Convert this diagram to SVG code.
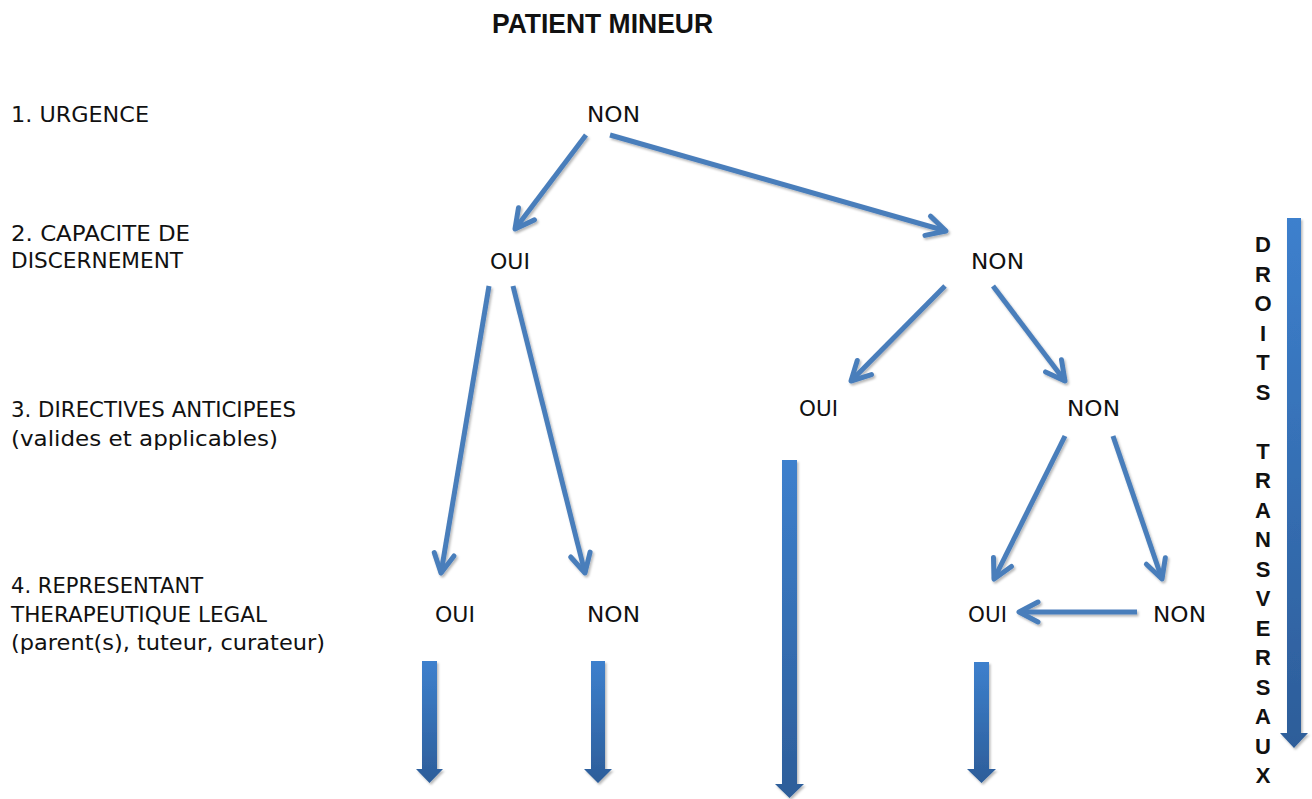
<svg xmlns="http://www.w3.org/2000/svg" width="1312" height="799" viewBox="0 0 1312 799">
  <style>
    .lbl { font-family: "DejaVu Sans", "Liberation Sans", sans-serif; font-size: 22px; fill: #111; }
    .title { font-family: "Liberation Sans", Arial, sans-serif; font-size: 28px; font-weight: bold; fill: #111; }
    .vert { font-family: "Liberation Sans", Arial, sans-serif; font-size: 22px; font-weight: bold; fill: #111; text-anchor: middle; }
    .thin { fill: none; stroke: #4a7ebb; stroke-width: 5; stroke-linecap: butt; marker-end: url(#chev); }
    .block { fill: url(#blueGrad); }
  </style>
  <defs>
    <marker id="chev" markerUnits="userSpaceOnUse" viewBox="-24 -14 28 28" markerWidth="28" markerHeight="28" refX="0" refY="0" orient="auto" overflow="visible">
      <path d="M-19,-10 L0,0 L-19,10" fill="none" stroke="#4a7ebb" stroke-width="5" stroke-linecap="round" stroke-linejoin="round"/>
    </marker>
    <linearGradient id="blueGrad" x1="0" y1="0" x2="0" y2="1">
      <stop offset="0" stop-color="#3d80cd"/>
      <stop offset="1" stop-color="#2d5d99"/>
    </linearGradient>
    <filter id="shadow" x="-10%" y="-10%" width="130%" height="130%">
      <feDropShadow dx="1.5" dy="2" stdDeviation="1.3" flood-color="#000" flood-opacity="0.28"/>
    </filter>
  </defs>

  <rect width="1312" height="799" fill="#ffffff"/>

  <g id="title">
    <text class="title" x="492" y="33" textLength="221" lengthAdjust="spacingAndGlyphs">PATIENT MINEUR</text>
  </g>

  <g id="levels">
    <text class="lbl" x="11" y="122" textLength="138" lengthAdjust="spacingAndGlyphs">1. URGENCE</text>
    <text class="lbl" x="11" y="241" textLength="179" lengthAdjust="spacingAndGlyphs">2. CAPACITE DE</text>
    <text class="lbl" x="11" y="268" textLength="172" lengthAdjust="spacingAndGlyphs">DISCERNEMENT</text>
    <text class="lbl" x="11" y="417" textLength="285" lengthAdjust="spacingAndGlyphs">3. DIRECTIVES ANTICIPEES</text>
    <text class="lbl" x="11" y="446" textLength="267" lengthAdjust="spacingAndGlyphs">(valides et applicables)</text>
    <text class="lbl" x="11" y="593" textLength="192" lengthAdjust="spacingAndGlyphs">4. REPRESENTANT</text>
    <text class="lbl" x="11" y="622" textLength="256" lengthAdjust="spacingAndGlyphs">THERAPEUTIQUE LEGAL</text>
    <text class="lbl" x="11" y="650" textLength="314" lengthAdjust="spacingAndGlyphs">(parent(s), tuteur, curateur)</text>
  </g>

  <g id="connectors" filter="url(#shadow)">
    <line class="thin" x1="586" y1="135" x2="515" y2="229"/>
    <line class="thin" x1="610" y1="135" x2="946" y2="231"/>
    <line class="thin" x1="489" y1="286" x2="441" y2="573"/>
    <line class="thin" x1="513" y1="286" x2="585" y2="573"/>
    <line class="thin" x1="945" y1="286" x2="851" y2="381"/>
    <line class="thin" x1="993" y1="286" x2="1065" y2="381"/>
    <line class="thin" x1="1065" y1="436" x2="994" y2="579"/>
    <line class="thin" x1="1113" y1="436" x2="1162" y2="579"/>
    <line class="thin" x1="1137" y1="612" x2="1019" y2="612"/>
    <path class="block" d="M422,661 H437 V769 H443 L429.5,783 L416,769 H422 Z"/>
    <path class="block" d="M591,661 H605 V769 H612 L598,783 L584,769 H591 Z"/>
    <path class="block" d="M782,460 H797 V784 H804 L789.5,798 L775,784 H782 Z"/>
    <path class="block" d="M974,662 H989 V769 H996 L981.5,783 L967,769 H974 Z"/>
    <path class="block" d="M1287,218 H1301 V733 H1308 L1294,748 L1280,733 H1287 Z"/>
  </g>

  <g id="n-urgence-non"><text class="lbl" x="587" y="122" textLength="53" lengthAdjust="spacingAndGlyphs">NON</text></g>
  <g id="n-capacite-oui"><text class="lbl" x="490" y="269" textLength="40" lengthAdjust="spacingAndGlyphs">OUI</text></g>
  <g id="n-capacite-non"><text class="lbl" x="971" y="269" textLength="53" lengthAdjust="spacingAndGlyphs">NON</text></g>
  <g id="n-directives-oui"><text class="lbl" x="799" y="416" textLength="39" lengthAdjust="spacingAndGlyphs">OUI</text></g>
  <g id="n-directives-non"><text class="lbl" x="1067" y="416" textLength="53" lengthAdjust="spacingAndGlyphs">NON</text></g>
  <g id="n-rep-oui-1"><text class="lbl" x="435" y="622" textLength="40" lengthAdjust="spacingAndGlyphs">OUI</text></g>
  <g id="n-rep-non-1"><text class="lbl" x="587" y="622" textLength="53" lengthAdjust="spacingAndGlyphs">NON</text></g>
  <g id="n-rep-oui-2"><text class="lbl" x="968" y="622" textLength="39" lengthAdjust="spacingAndGlyphs">OUI</text></g>
  <g id="n-rep-non-2"><text class="lbl" x="1153" y="622" textLength="53" lengthAdjust="spacingAndGlyphs">NON</text></g>

  <g id="droits-transversaux">
    <text class="vert" x="1263" y="252">D</text>
    <text class="vert" x="1263" y="281.5">R</text>
    <text class="vert" x="1263" y="311">O</text>
    <text class="vert" x="1263" y="340.5">I</text>
    <text class="vert" x="1263" y="370">T</text>
    <text class="vert" x="1263" y="399.5">S</text>
    <text class="vert" x="1263" y="458.5">T</text>
    <text class="vert" x="1263" y="488">R</text>
    <text class="vert" x="1263" y="517.5">A</text>
    <text class="vert" x="1263" y="547">N</text>
    <text class="vert" x="1263" y="576.5">S</text>
    <text class="vert" x="1263" y="606">V</text>
    <text class="vert" x="1263" y="635.5">E</text>
    <text class="vert" x="1263" y="665">R</text>
    <text class="vert" x="1263" y="694.5">S</text>
    <text class="vert" x="1263" y="724">A</text>
    <text class="vert" x="1263" y="753.5">U</text>
    <text class="vert" x="1263" y="783">X</text>
  </g>
</svg>
